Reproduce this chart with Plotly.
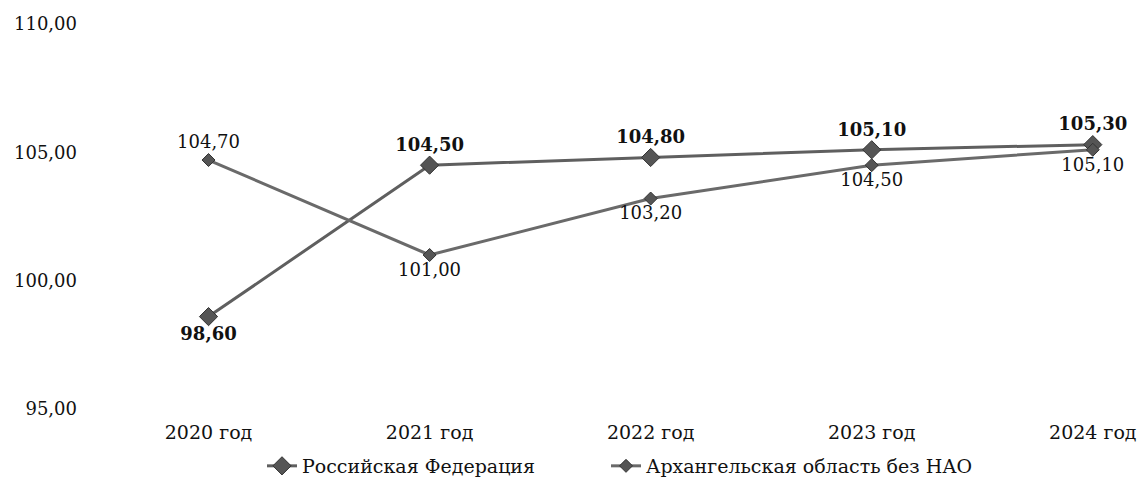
import plotly.graph_objects as go

categories = ["2020 год", "2021 год", "2022 год", "2023 год", "2024 год"]
rf_values = [98.60, 104.50, 104.80, 105.10, 105.30]
arh_values = [104.70, 101.00, 103.20, 104.50, 105.10]
y_ticks = [95, 100, 105, 110]
y_tick_labels = ["95,00", "100,00", "105,00", "110,00"]

def fmt(v):
    return f"{v:.2f}".replace(".", ",")

x = list(range(len(categories)))
font = "DejaVu Serif, Liberation Serif, serif"

fig = go.Figure()
fig.add_trace(go.Scatter(
    x=x, y=rf_values, name="Российская Федерация",
    mode="lines+markers+text", legend="legend",
    line=dict(color="#5f5f5f", width=3),
    marker=dict(symbol="diamond", size=14, color="#555555", line=dict(color="#333333", width=1)),
    text=["<b>" + fmt(v) + "</b>" for v in rf_values],
    textposition=["bottom center", "top center", "top center", "top center", "top center"],
    textfont=dict(family=font, size=18, color="#111111"),
))
fig.add_trace(go.Scatter(
    x=x, y=arh_values, name="Архангельская область без НАО",
    mode="lines+markers+text", legend="legend2",
    line=dict(color="#6a6a6a", width=3),
    marker=dict(symbol="diamond", size=10, color="#555555", line=dict(color="#333333", width=1)),
    text=[fmt(v) for v in arh_values],
    textposition=["top center", "bottom center", "bottom center", "bottom center", "bottom center"],
    textfont=dict(family=font, size=18, color="#111111"),
))

legend_common = dict(orientation="h", xanchor="left", xref="container",
                     y=-0.148, yanchor="middle", font=dict(size=19, family=font),
                     bgcolor="rgba(0,0,0,0)")

fig.update_layout(
    width=1141, height=477,
    margin=dict(l=98, r=4, t=24, b=68, autoexpand=False),
    paper_bgcolor="white", plot_bgcolor="white",
    font=dict(family=font, size=18, color="#111111"),
    showlegend=True,
    legend=dict(x=262 / 1141, **legend_common),
    legend2=dict(x=606 / 1141, **legend_common),
)
fig.update_xaxes(
    tickmode="array", tickvals=x, ticktext=categories,
    range=[-0.5, 4.2], showgrid=False, zeroline=False, showline=False,
    ticks="", ticklabelstandoff=10, automargin=False,
    tickfont=dict(size=19),
)
fig.update_yaxes(
    tickmode="array", tickvals=y_ticks, ticktext=y_tick_labels,
    range=[95, 110], showgrid=False, zeroline=False, showline=False,
    ticks="", ticklabelstandoff=20, automargin=False,
)

fig.write_html("out.html", config={"displayModeBar": False},
               post_script="document.body.style.margin='0px';document.body.style.overflow='hidden';")
